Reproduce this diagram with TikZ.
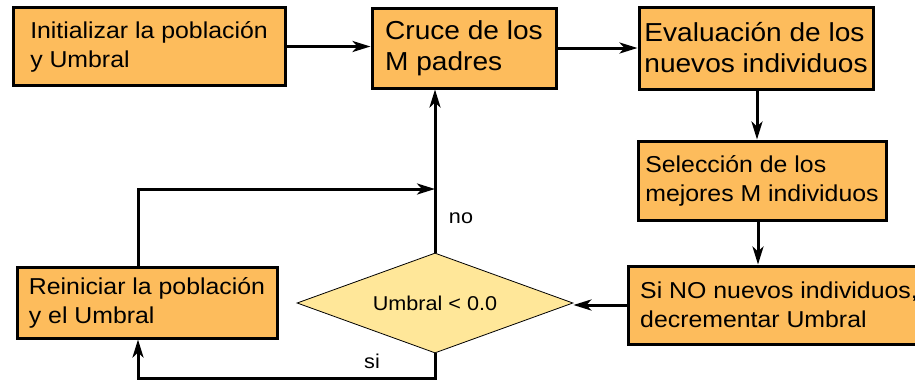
\documentclass[tikz,border=0pt]{standalone}
\usepackage{fontspec}
\setmainfont[FakeStretch=1.08]{Liberation Sans}
\usetikzlibrary{shapes.geometric, arrows.meta}
\definecolor{naranja}{RGB}{253,188,92}
\definecolor{amarillo}{RGB}{255,231,153}

\begin{document}
\begin{tikzpicture}[x=1pt, y=-1pt,
  caja/.style={draw, line width=3pt, fill=naranja, align=left, inner sep=0pt,
    font=\fontsize{23}{29}\selectfont},
  grande/.style={font=\fontsize{26}{31}\selectfont},
  flecha/.style={line width=3pt, -{Stealth[length=18pt, width=11pt, inset=5pt]}},
  etiqueta/.style={font=\fontsize{20}{22}\selectfont}]
\useasboundingbox (0,0) rectangle (915,381);
\clip (0,0) rectangle (915,381);

% cajas
\node[caja, minimum width=272pt, minimum height=78pt] (ini) at (149,46.5) {Initializar la población\\y Umbral};
\node[caja, grande, minimum width=184pt, minimum height=80pt] (cruce) at (464,48) {Cruce de los\\M padres};
\node[caja, grande, minimum width=234pt, minimum height=82pt] (eval) at (756,48) {Evaluación de los\\nuevos individuos};
\node[caja, minimum width=248pt, minimum height=79pt] (sel) at (762,180.5) {Selección de los\\mejores M individuos};
\node[caja, minimum width=302pt, minimum height=78pt] (sino) at (779,305) {Si NO nuevos individuos,\\decrementar Umbral};
\node[caja, minimum width=260pt, minimum height=71pt] (reini) at (147,302.5) {Reiniciar la población\\y el Umbral};

% decision
\node[draw, diamond, aspect=2.76, fill=amarillo, line width=0.8pt, minimum width=276pt, minimum height=100pt,
  inner sep=0pt, etiqueta] (dec) at (435,303) {Umbral < 0.0};

\coordinate (arriba) at (138,189);
\coordinate (abajo) at (138,378);

% conexiones
\draw[flecha] (ini.east) -- (ini.east -| cruce.west);
\draw[flecha] (cruce.east) -- (cruce.east -| eval.west);
\draw[flecha] (eval.south -| 757,0) -- (757,0 |- sel.north);
\draw[flecha] (sel.south -| 758,0) -- (758,0 |- sino.north);
\draw[flecha] (sino.west) -- (sino.west -| dec.east);
\draw[flecha] (dec.north) -- (dec.north |- cruce.south);
\draw[flecha] (reini.north -| arriba) -- (arriba) -- (arriba -| dec.north);
\draw[flecha] (dec.south) -- (dec.south |- abajo) -- (abajo) -- (abajo |- reini.south);

\node[etiqueta] (no) at (461,218) {no};
\node[etiqueta] (si) at (372,361) {si};
\end{tikzpicture}
\end{document}
